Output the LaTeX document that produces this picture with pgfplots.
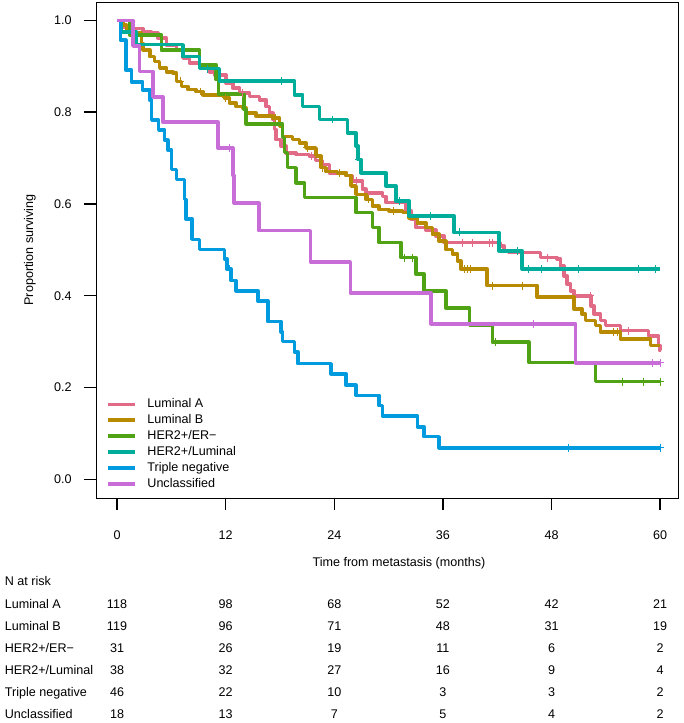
\documentclass[border=0pt]{standalone}
\usepackage{fontspec}
\setmainfont{Liberation Sans}
\usepackage{pgfplots}
\pgfplotsset{compat=1.18}

\definecolor{lumA}{HTML}{E16A86}
\definecolor{lumB}{HTML}{B88A00}
\definecolor{herneg}{HTML}{50A315}
\definecolor{herlum}{HTML}{00AD9A}
\definecolor{trineg}{HTML}{009ADE}
\definecolor{uncl}{HTML}{C86DD7}

\pgfplotsset{
  km/.style={const plot, no marks, line width=3.6pt, line join=round, color=#1},
  cens/.style={only marks, mark=+, mark size=4pt, line width=1pt, color=#1, forget plot},
}

\begin{document}
\fontsize{12.6}{15}\selectfont
\begin{tikzpicture}
\path (0pt,0pt) rectangle (685pt,723pt);
\begin{axis}[
    at={(96pt,224pt)}, anchor=south west,
    scale only axis, width=584pt, height=497pt,
    xmin=-2.35, xmax=62.0, ymin=-0.04, ymax=1.04,
    axis lines=box,
    xtick={0,12,24,36,48,60},
    ytick={0,0.2,0.4,0.6,0.8,1.0},
    xtick pos=bottom, ytick pos=left, tick align=outside,
    major tick length=12pt,
    every tick/.style={black, line width=1.4pt},
    every axis line/.style={black, line width=1.4pt},
    /pgf/number format/assume math mode=true,
    yticklabel style={/pgf/number format/fixed, /pgf/number format/fixed zerofill,
      /pgf/number format/precision=1},
    tick label style={inner sep=0pt},
    xticklabel style={anchor=base, yshift=-29.5pt},
    yticklabel style={anchor=east, xshift=-12pt},
    xlabel={Time from metastasis (months)},
    xlabel style={at={(axis description cs:0.5205,-0.1378)}, anchor=base, inner sep=0pt},
    ylabel={Proportion surviving},
    ylabel style={at={(axis description cs:-0.113,0.5)}, anchor=center, inner sep=0pt},
    legend style={at={(axis cs:-1.17,0.177)}, anchor=north west, draw=none, fill=none,
      inner sep=0pt, row sep=4pt,
      nodes={inner sep=0pt, text height=9.5pt, text depth=2.5pt},
      /tikz/every odd column/.append style={column sep=10.7pt}},
    legend cell align=left,
    legend image code/.code={\draw[#1, line width=3.6pt] (0pt,0pt) -- (26.6pt,0pt);},
  ]
  % Luminal A
  \addplot[km=lumA] coordinates {
    (0,1.000)(0.63,0.986)(1.76,0.982)(2.87,0.975)(3.79,0.972)(4.52,0.961)(5.45,0.946)
    (6.55,0.936)(7.28,0.918)(8.02,0.907)(9.12,0.899)(10.22,0.888)(10.77,0.881)(12.06,0.863)
    (12.79,0.852)(13.53,0.842)(14.63,0.834)(15.73,0.827)(16.47,0.812)(16.84,0.798)(17.20,0.784)
    (17.39,0.762)(17.57,0.740)(18.13,0.726)(18.68,0.711)(19.78,0.708)(21.25,0.704)(21.91,0.695)
    (22.71,0.686)(23.45,0.668)(25.29,0.662)(26.02,0.650)(27.12,0.632)(27.50,0.624)(29.33,0.616)
    (29.70,0.603)(31.91,0.585)(32.49,0.567)(33.01,0.549)(34.11,0.543)(35.21,0.530)(36.13,0.516)
    (42.38,0.509)(42.75,0.498)(43.30,0.494)(46.79,0.483)(48.62,0.480)(49.00,0.465)(49.36,0.443)
    (49.72,0.425)(50.10,0.411)(50.46,0.400)(52.34,0.378)(52.67,0.360)(53.41,0.346)(53.96,0.335)
    (55.61,0.324)(58.73,0.312)(59.83,0.292)(59.95,0.281)(60,0.281)
  };
  \addlegendentry{Luminal A}
  % Luminal B
  \addplot[km=lumB] coordinates {
    (0,1.000)(0.66,0.990)(1.04,0.979)(1.76,0.972)(2.69,0.950)(2.87,0.936)(3.61,0.921)
    (4.16,0.910)(4.71,0.896)(5.45,0.888)(6.17,0.885)(6.55,0.867)(7.10,0.856)(7.83,0.849)
    (8.75,0.845)(9.48,0.838)(11.87,0.831)(12.43,0.820)(13.16,0.812)(13.89,0.809)(14.27,0.798)
    (15.37,0.791)(17.20,0.787)(17.94,0.769)(18.27,0.747)(19.40,0.740)(20.14,0.733)(20.88,0.722)
    (21.98,0.704)(22.54,0.679)(23.09,0.671)(24.37,0.668)(25.29,0.662)(25.84,0.639)(26.39,0.621)
    (27.50,0.610)(28.22,0.595)(28.96,0.588)(30.06,0.585)(31.53,0.581)(32.27,0.570)(33.19,0.559)
    (34.11,0.549)(34.84,0.534)(35.58,0.519)(36.32,0.501)(37.05,0.491)(37.60,0.476)(37.97,0.458)
    (40.90,0.422)(46.42,0.397)(50.46,0.371)(51.38,0.360)(51.75,0.346)(52.86,0.335)(53.41,0.321)
    (55.61,0.306)(58.92,0.292)(60,0.292)
  };
  \addlegendentry{Luminal B}
  % HER2+/ER-
  \addplot[km=herneg] coordinates {
    (0,1)(1.40,0.968)(4.90,0.935)(9.12,0.903)(10.96,0.871)(11.20,0.839)(14.00,0.806)
    (14.27,0.774)(18.30,0.745)(18.49,0.712)(18.82,0.679)(19.78,0.646)(20.69,0.614)(26.39,0.581)
    (28.22,0.549)(28.96,0.516)(31.36,0.483)(33.01,0.447)(33.93,0.411)(36.32,0.373)(38.94,0.335)
    (41.46,0.299)(45.50,0.255)(52.86,0.213)(60,0.213)
  };
  \addlegendentry{HER2+/ER−}
  % HER2+/Luminal
  \addplot[km=herlum] coordinates {
    (0,1)(0.41,0.974)(2.17,0.947)(7.28,0.921)(9.12,0.895)(11.32,0.868)(19.59,0.838)
    (20.51,0.812)(22.35,0.784)(25.47,0.755)(26.39,0.726)(26.65,0.697)(26.95,0.668)(29.70,0.639)
    (30.80,0.606)(32.27,0.574)(37.23,0.538)(42.19,0.498)(44.76,0.458)(60,0.458)
  };
  \addlegendentry{HER2+/Luminal}
  % Triple negative
  \addplot[km=trineg] coordinates {
    (0,1)(0.37,0.957)(0.96,0.892)(1.59,0.866)(2.83,0.848)(3.61,0.826)(3.83,0.783)(4.60,0.761)
    (5.26,0.739)(5.60,0.718)(6.00,0.675)(6.55,0.653)(7.46,0.610)(7.60,0.567)(8.31,0.523)
    (9.12,0.501)(11.87,0.480)(12.17,0.458)(12.61,0.433)(13.16,0.411)(15.55,0.389)(16.65,0.344)
    (18.13,0.321)(18.27,0.300)(19.59,0.278)(19.96,0.252)(23.64,0.230)(25.29,0.205)(26.39,0.183)
    (28.96,0.161)(29.33,0.138)(33.19,0.114)(33.93,0.093)(35.58,0.069)(60,0.069)
  };
  \addlegendentry{Triple negative}
  % Unclassified
  \addplot[km=uncl] coordinates {
    (0,1)(1.76,0.944)(2.50,0.889)(3.97,0.833)(5.07,0.778)(11.14,0.722)(12.79,0.662)
    (12.95,0.602)(15.66,0.542)(21.36,0.474)(25.77,0.406)(34.66,0.339)(50.65,0.254)(60,0.254)
  };
  \addlegendentry{Unclassified}

  % censoring marks
  \addplot[cens=lumA] coordinates {
    (13.9,0.842)(21.5,0.704)(26.5,0.650)(38.15,0.516)(39.25,0.516)(41.09,0.516)(41.46,0.516)
    (47.52,0.483)(52.30,0.400)(56.53,0.324)
  };
  \addplot[cens=lumB] coordinates {
    (7.0,0.867)(9.2,0.845)(12.0,0.831)(17.5,0.787)(21.0,0.722)(22.7,0.679)(24.6,0.668)
    (27.8,0.610)(30.5,0.585)(38.34,0.458)(38.70,0.458)(39.07,0.458)(41.46,0.422)(44.76,0.422)
    (54.87,0.321)(55.3,0.321)
  };
  \addplot[cens=herneg] coordinates {
    (31.72,0.483)(32.6,0.483)(41.8,0.299)(55.79,0.213)(58.18,0.213)(60,0.213)
  };
  \addplot[cens=herlum] coordinates {
    (10.0,0.895)(18.13,0.868)(23.81,0.784)(26.76,0.697)(31.17,0.606)(34.66,0.574)(37.78,0.538)
    (44.21,0.498)(45.5,0.458)(46.9,0.458)(51.0,0.458)(57.6,0.458)(59.5,0.458)
  };
  \addplot[cens=trineg] coordinates {
    (12.4,0.458)(49.9,0.069)(60,0.069)
  };
  \addplot[cens=uncl] coordinates {
    (12.43,0.722)(46.05,0.339)(59.1,0.254)(60,0.254)
  };
\end{axis}

% number at risk table
\node[anchor=base west] at (0.5pt,136.5pt) {N at risk};
\node[anchor=base west] at (0.5pt,112.5pt) {Luminal A};
\node[anchor=base west] at (0.5pt,90.5pt) {Luminal B};
\node[anchor=base west] at (0.5pt,68.5pt) {HER2+/ER−};
\node[anchor=base west] at (0.5pt,46.5pt) {HER2+/Luminal};
\node[anchor=base west] at (0.5pt,24.5pt) {Triple negative};
\node[anchor=base west] at (0.5pt,2.5pt) {Unclassified};
\foreach \v [count=\i from 0] in {118,98,68,52,42,21}
  \node[anchor=base] at ({(117.3+108.9*\i)*1pt},112.5pt) {\v};
\foreach \v [count=\i from 0] in {119,96,71,48,31,19}
  \node[anchor=base] at ({(117.3+108.9*\i)*1pt},90.5pt) {\v};
\foreach \v [count=\i from 0] in {31,26,19,11,6,2}
  \node[anchor=base] at ({(117.3+108.9*\i)*1pt},68.5pt) {\v};
\foreach \v [count=\i from 0] in {38,32,27,16,9,4}
  \node[anchor=base] at ({(117.3+108.9*\i)*1pt},46.5pt) {\v};
\foreach \v [count=\i from 0] in {46,22,10,3,3,2}
  \node[anchor=base] at ({(117.3+108.9*\i)*1pt},24.5pt) {\v};
\foreach \v [count=\i from 0] in {18,13,7,5,4,2}
  \node[anchor=base] at ({(117.3+108.9*\i)*1pt},2.5pt) {\v};
\end{tikzpicture}
\end{document}
